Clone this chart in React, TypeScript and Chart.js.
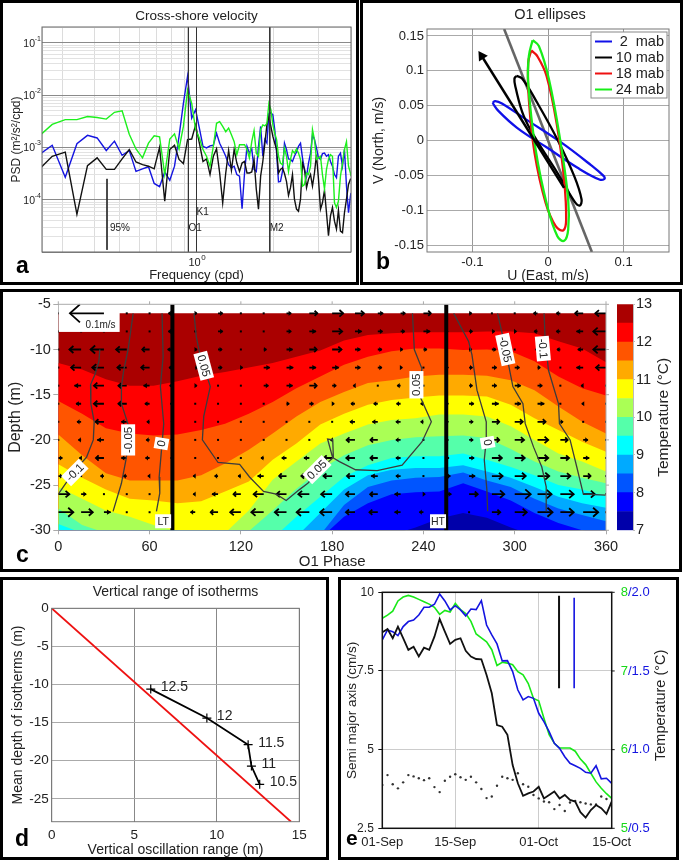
import React, { useEffect, useRef } from "react";
import { Chart, registerables } from "chart.js";

Chart.register(...registerables);
Chart.defaults.font.family = '"Liberation Sans", Arial, sans-serif';
Chart.defaults.color = "#222";

// ---------- Panel a: spectra ----------
const frequencies = [
  0.239,0.274,0.308,0.342,0.376,0.410,0.445,0.479,0.513,0.547,
  0.581,0.616,0.650,0.684,0.718,0.752,0.787,0.821,0.855,0.889,
  0.923,0.958,0.992,1.026,1.060,1.094,1.129,1.163,1.197,1.231,
  1.265,1.300,1.334,1.368,1.402,1.436,1.471,1.505,1.539,1.573,
  1.607,1.642,1.676,1.710,1.744,1.778,1.813,1.847,1.881,1.915,
  1.949,1.984,2.018,2.052,
  2.087,2.124,2.163,2.202,2.242,2.283,2.324,2.366,2.408,2.453,
  2.497,2.543,2.588,2.635,2.684,2.732,2.782,2.831,2.882,2.934,
  2.988,3.042,3.096,3.153,3.210,3.268,3.327,3.387,3.449,3.511,
  3.573,3.639,3.706,3.772,3.841,3.911,3.980,4.000,
];
// minus log10 of PSD
const blueLogPsd = [
  3.17,2.96,3.57,2.93,2.77,2.82,3.06,2.88,3.15,3.06,
  3.46,3.41,3.37,3.69,3.75,3.47,3.63,3.36,2.79,2.16,
  1.64,2.44,2.28,2.63,2.98,3.01,2.97,2.96,2.73,2.92,
  3.04,3.17,3.33,3.39,3.36,3.52,3.55,4.17,3.49,2.98,
  3.11,3.03,3.42,3.46,2.98,2.60,3.17,2.85,2.92,2.35,
  2.34,2.38,2.66,3.11,
  3.66,3.65,3.46,2.92,3.04,3.22,3.23,3.27,3.17,3.09,
  2.98,2.92,3.20,3.42,3.56,3.30,3.11,2.76,2.85,3.01,
  3.20,3.23,3.12,3.11,3.17,3.14,3.27,3.36,3.52,3.58,
  3.17,3.11,3.36,3.04,3.74,4.25,3.93,3.87,
];
const greenLogPsd = [
  2.82,2.56,2.47,2.47,2.41,2.43,2.46,2.33,2.30,2.75,
  3.03,3.20,2.92,2.78,2.80,3.52,2.84,2.74,3.03,2.60,
  1.90,2.16,2.66,2.82,3.04,3.17,3.36,2.98,2.54,2.51,
  2.60,2.70,2.63,2.76,2.89,3.14,2.95,2.95,2.95,3.04,
  3.20,2.89,2.68,3.11,3.17,2.66,2.57,2.59,2.54,2.16,
  2.28,2.57,2.73,2.85,
  3.17,3.30,3.33,3.01,3.17,3.46,3.23,3.06,3.11,3.03,
  3.11,3.23,3.74,3.71,3.49,3.52,3.36,2.66,2.85,3.23,
  3.20,3.17,3.52,3.79,3.42,3.23,3.14,3.17,4.06,4.15,
  4.03,3.55,3.30,3.04,2.89,3.36,3.49,3.55,
];
const blackLogPsd = [
  3.46,3.17,3.09,4.28,3.35,3.20,3.42,3.42,3.22,3.04,
  3.28,3.33,3.36,3.41,3.00,4.03,3.04,2.96,3.23,3.31,
  2.85,2.84,2.57,2.92,3.27,3.22,3.52,3.17,3.03,3.49,
  4.06,3.49,3.06,3.44,3.04,3.30,3.46,3.30,3.27,3.49,
  3.49,3.47,3.23,3.80,4.18,3.55,3.27,2.92,2.57,2.41,
  2.60,2.79,2.92,3.04,
  3.49,3.42,3.39,3.50,3.65,3.92,3.77,3.52,3.99,4.18,
  4.22,3.99,3.30,3.42,3.77,3.61,3.52,3.74,3.49,3.14,
  3.61,4.18,4.06,3.82,4.25,4.69,4.31,4.15,4.41,4.56,
  4.20,4.60,4.63,4.25,3.99,3.71,3.61,3.61,
];
const tidalNames = ["O1", "K1", "M2"];
const tidalFreqs = [0.93, 1.0, 1.93];
const tidalLabelPsd = [3.0e-5, 6.1e-5, 3.0e-5];
const confidenceFreq = 0.448;
const confidenceRange = [2.5e-4, 1.1e-5];
const psdMajor = [1e-1, 1e-2, 1e-3, 1e-4, 1e-5];
const psdMajorExponents = ["-1", "-2", "-3", "-4", ""];
const psdMinor = [2e-1,9e-2,8e-2,7e-2,6e-2,5e-2,4e-2,3e-2,2e-2,9e-3,8e-3,7e-3,6e-3,5e-3,4e-3,3e-3,2e-3,9e-4,8e-4,7e-4,6e-4,5e-4,4e-4,3e-4,2e-4,9e-5,8e-5,7e-5,6e-5,5e-5,4e-5,3e-5,2e-5];
const freqGrid = [0.25, 0.3, 0.4, 0.5, 0.6, 0.7, 0.8, 0.9, 1, 2, 3, 4];

// ---------- Panel b: ellipses ----------
const ellipse2U = [-0.0733,-0.0698,-0.0609,-0.0276,0.0169,0.0569,0.0738,0.0747,0.068,0.0391,-0.0009,-0.0409,-0.0653,-0.0733];
const ellipse2V = [0.054,0.0565,0.0531,0.0292,-0.0024,-0.0354,-0.0512,-0.055,-0.056,-0.0392,-0.0105,0.0182,0.0421,0.054];
const ellipse10U = [-0.0418,-0.0342,-0.0142,0.0124,0.0347,0.0444,0.0418,0.0347,0.0124,-0.0142,-0.032,-0.0431,-0.0444,-0.0418];
const ellipse10V = [0.0928,0.089,0.0541,0.0014,-0.0512,-0.0847,-0.0933,-0.0871,-0.0464,-0.001,0.0349,0.077,0.0885,0.0928];
const ellipse18U = [-0.0222,-0.0142,-0.0018,0.0124,0.0213,0.024,0.0204,0.0102,-0.0031,-0.0178,-0.0253,-0.0262,-0.0222];
const ellipse18V = [0.1292,0.1211,0.0923,0.0182,-0.056,-0.1134,-0.1287,-0.123,-0.0895,-0.0177,0.0589,0.1115,0.1292];
const ellipse24U = [-0.0204,-0.012,0.0013,0.016,0.0267,0.0267,0.0213,0.0124,-0.0009,-0.0164,-0.0262,-0.0253,-0.0204];
const ellipse24V = [0.144,0.1354,0.0876,0.0014,-0.0847,-0.1278,-0.144,-0.1373,-0.0943,-0.0129,0.0828,0.1211,0.144];
const principalU = [-0.058, 0.058];
const principalV = [0.16, -0.16];
const phaseArrowU = [0.0213, -0.0876];
const phaseArrowV = [-0.068, 0.121];
const ellipseLabels = ["2  mab", "10 mab", "18 mab", "24 mab"];
const ellipseTicksV = [0.15, 0.1, 0.05, 0, -0.05, -0.1, -0.15];
const ellipseTicksU = [-0.1, 0, 0.1];

// ---------- Panel c: phase-depth temperature ----------
const isoPhases = [0,15.65,31.3,46.96,62.6,78.3,93.9,109.6,125.2,140.9,156.5,172.2,187.8,203.5,219.1,234.8,250.4,266.1,281.7,297.4,313,328.7,344.3,360];
const t7_5 = [-31,-31,-31,-31,-31,-31,-31,-31,-31,-31,-31,-31,-31,-31,-30.5,-29.7,-28.7,-28.1,-28.6,-29.7,-30.6,-31,-31,-31];
const t8 = [-31,-31,-31,-31,-31,-31,-31,-31,-31,-31,-31,-30.9,-28.5,-27,-26,-25.8,-25.7,-24.8,-25.7,-26.7,-28.1,-29.2,-30,-30.6];
const t8_5 = [-31,-31,-31,-31,-31,-31,-31,-31,-31,-31,-31,-30.5,-27.2,-25.2,-24.5,-24.2,-24.1,-23.6,-24.5,-25.2,-26.5,-27.6,-28.3,-29];
const t9 = [-31,-31,-31,-31,-31,-31,-31,-31,-31,-31,-30.7,-28.1,-25.5,-23.9,-23.3,-23.1,-23.1,-22.8,-23.5,-24.2,-25.2,-26.3,-27,-27.5];
const t9_5 = [-29.3,-30.3,-31,-31,-31,-31,-31,-31,-31,-30.9,-28.5,-26.3,-24.1,-22.8,-22,-21.8,-21.8,-21.5,-22.2,-23,-23.9,-25,-25.5,-26.2];
const t10 = [-27.6,-29.4,-30.3,-31,-31,-31,-31,-31,-30.1,-27.8,-25.4,-23.3,-21.7,-20.6,-20,-19.7,-19.6,-19.5,-19.8,-21,-22.4,-23.5,-24.2,-24.8];
const t10_5 = [-25.2,-26.5,-27.8,-28.5,-29.4,-30.1,-30.5,-30.3,-27.8,-24.4,-22.4,-20.4,-19.3,-18.3,-17.8,-17.6,-17.2,-17.2,-17.4,-18.5,-20,-21.5,-22.4,-23.5];
const t11 = [-22.7,-24.2,-25.5,-26.5,-26.7,-27,-26.8,-25.7,-24.6,-22.2,-20.4,-18.3,-17.1,-16.1,-15.6,-15.3,-15.1,-15.1,-15.2,-16.1,-17.6,-18.9,-20.2,-21.3];
const t11_5 = [-19.4,-21.7,-23.7,-24.5,-24.5,-24.5,-23.9,-22.6,-21.1,-19.3,-17.4,-15.8,-14.7,-13.7,-13.4,-13,-12.8,-12.8,-12.9,-13.4,-14.5,-16.3,-18,-19.3];
const t12 = [-15.7,-17.1,-18.7,-19.3,-19.5,-19.4,-18.9,-18.2,-17.1,-15.8,-14.3,-13,-11.7,-10.8,-10.2,-9.9,-9.9,-10.05,-10,-10.2,-11.3,-13,-14.3,-15.1];
const t12_5 = [-11.5,-12.2,-13.3,-14,-14,-13.5,-12.9,-12.5,-12,-11.5,-10.8,-10.1,-9,-8.4,-8.2,-8.1,-8.1,-8.1,-8,-8,-8.2,-9.1,-9.9,-11.4];
const t13 = [-6,-6,-6,-6,-6,-6,-6,-6,-6,-6,-6,-6,-6,-6,-6,-6,-6,-6,-6,-6,-6,-6,-6,-6];
const bandColors = ["#0000aa","#0000ff","#0055ff","#00aaff","#00ffff","#55ffaa","#aaff55","#ffff00","#ffaa00","#ff5500","#ff0000","#aa0000"];
const bandLow = [7,7.5,8,8.5,9,9.5,10,10.5,11,11.5,12,12.5];
const bandHigh = [7.5,8,8.5,9,9.5,10,10.5,11,11.5,12,12.5,13];

const contourM01aPhase = [27.3,26.7,24,21.2,21.4,23.6,23,18.6,13.8,6.6,3.3,0];
const contourM01aDepth = [-10,-11.3,-12.8,-13.9,-16,-18,-20,-21.9,-22.8,-24.4,-25.2,-26];
const contourM005aPhase = [49.2,45.9,43,41.5,41.5,45.9,45.5,44.8,41.5,36];
const contourM005aDepth = [-6,-10,-12.3,-14.1,-16,-18.3,-20,-21.9,-24.8,-27.9];
const contour0aPhase = [68.2,68.9,67.1,69.3,68.4,66.3,66.7,64.5];
const contour0aDepth = [-6,-10.8,-14.1,-18.2,-20,-24.1,-25.9,-27.9];
const contour005Phase = [89.2,90.7,92.9,99.9,95.6,94.7,105,119.2,125.7,134.9,143.2,149.8,158.5,164,175,180.4,177,180.4,180.8,184.8,195.4,209.6,226,239.1,245.2,237,239,234,232.8];
const contour005Depth = [-6,-8.6,-10.4,-14.1,-17.4,-20,-22.5,-22.7,-24.1,-25.7,-26,-26.7,-25.5,-24.8,-22.8,-22,-19.9,-20,-22,-22.4,-23.3,-23.4,-22.8,-20.2,-18,-14.9,-12.1,-10,-6];
const contour0bPhase = [259.9,269.7,271.9,275.2,281.3,281.3,280,281.7,282.2];
const contour0bDepth = [-6,-9.1,-10.6,-14.5,-18,-20,-22.2,-25.5,-27.9];
const contourM005bPhase = [288.7,292.7,297.5,298.8,305.4,306.9,312.4,317.8,320.7,320.7];
const contourM005bDepth = [-6,-8.9,-13,-14.1,-16,-18.2,-20.8,-23,-25.2,-27.9];
const contourM01bPhase = [319.3,320,322.2,328.8,329.4,336.4,340.8,345.1,360];
const contourM01bDepth = [-6,-8.9,-12.3,-16,-18.2,-20,-23,-26,-26.1];
const contourLabelText = ["-0.1","-0.05","0","0.05","0.05","0.05","0","-0.05","-0.1"];
const contourLabelPhase = [10.9,45.9,67.8,95.6,170,235.4,282.2,293.8,318.5];
const contourLabelDepth = [-23.6,-20,-20.4,-11.8,-23.3,-13.9,-20.3,-10,-9.9];
const contourLabelAngle = [-45,-90,-80,75,-45,-90,80,78,85];
const tideMarkPhases = [75, 255];
const tideMarkNames = ["LT", "HT"];
const tideMarkLabelPhases = [68.9, 249.6];

const quiverPhases = [0,15,30,45,60,75,90,105,120,135,150,165,180,195,210,225,240,255,270,285,300,315,330,345,360];
const quiverDepths = [-6,-8,-10,-12,-14,-16,-18,-20,-22,-24,-26,-28];
// cross-shore velocity, mm/s
const u06 = [0,0,0,0,0,-12,5,14,3,3,14,24,33,27,16,14,22,4,8,3,0,-12,-12,-24,-32];
const u08 = [0,0,0,0,0,-12,3,14,3,3,14,20,30,20,14,12,20,5,10,8,5,-10,-12,-20,-38];
const u10 = [0,-35,-40,-32,-22,-14,5,12,3,8,18,22,28,16,12,6,10,0,8,12,3,-6,-10,-16,-38];
const u12 = [0,-30,-35,-28,-25,-10,8,12,5,18,20,20,20,16,12,5,3,6,10,14,14,8,2,-20,-30];
const u14 = [0,-20,-30,-25,-18,-8,5,2,3,14,18,22,12,-5,2,-10,-3,4,10,14,18,14,2,-6,0];
const u16 = [0,-15,-30,-25,-14,-6,3,2,3,3,8,12,6,-12,-12,-12,-8,6,14,20,18,20,3,-4,0];
const u18 = [3,-12,-25,-16,-8,-4,2,2,2,-3,-3,2,2,-15,-16,-14,-8,6,12,22,24,24,8,3,0];
const u20 = [2,-8,-20,-14,-10,-5,2,2,2,2,-3,-3,-5,-25,-22,-14,3,6,12,22,28,32,22,14,0];
const u22 = [12,-5,-24,-16,-12,-5,2,3,3,-8,-14,-16,-25,-26,-22,-14,2,8,15,30,30,32,26,18,0];
const u24 = [12,3,-10,-10,-5,0,-6,-10,-8,-18,-22,-24,-26,-24,-20,-14,3,12,18,32,33,35,30,22,0];
const u26 = [33,15,3,2,2,3,-6,-18,-22,-30,-30,-33,-33,-27,-23,-18,5,15,26,37,48,42,40,35,0];
const u28 = [45,35,20,3,2,0,-14,-22,-32,-37,-35,-38,-36,-27,-25,-18,-12,0,3,25,36,45,40,45,0];
const uRows = [u06,u08,u10,u12,u14,u16,u18,u20,u22,u24,u26,u28];

// ---------- Panel d ----------
const isothermRange = [6, 9.4, 11.9, 12.1, 12.6];
const isothermDepth = [-10.6, -14.4, -17.9, -20.7, -23.1];
const isothermNames = ["12.5", "12", "11.5", "11", "10.5"];
const redLineX = [0, 14.5];
const redLineY = [0, -28];
const depthTicksD = [0, -5, -10, -15, -20, -25];

// ---------- Panel e ----------
const days = [0,1,2,3,4,5,6,7,8,9,10,11,12,13,14,15,16,17,18,19,20,21,22,23,24,25,26,27,28,29,30,31,32,33,34,35,36,37,38,39,40,41,42,43,44];
const semiMajor = [8.73,8.83,8.54,8.91,8.54,8.17,8.27,7.96,8.24,8.17,8.59,9.15,8.75,8.36,8.49,8.54,8.14,7.96,7.88,7.87,7.37,6.79,5.78,5.73,5.47,4.51,3.93,3.53,3.61,3.67,3.82,3.45,3.56,3.67,3.45,3.56,3.40,3.35,3.01,2.84,3.08,3.24,3.14,2.96,3.35];
const blueRange = [1.697,1.761,1.75,1.725,1.782,1.814,1.824,1.856,1.905,1.905,1.924,1.989,1.945,1.888,1.915,1.888,1.85,1.894,1.89,1.947,1.792,1.729,1.672,1.564,1.566,1.496,1.379,1.316,1.337,1.326,1.231,1.178,1.114,1.04,1.008,0.955,0.913,0.898,0.881,0.856,0.85,0.898,0.814,0.818,0.786];
const greenTemp = [7.67,7.71,7.76,7.89,7.94,7.96,7.94,7.91,7.88,7.85,7.81,7.72,7.77,7.75,7.86,7.78,7.73,7.63,7.47,7.42,7.37,7.27,7.07,7.11,7.10,7.08,6.99,6.95,6.84,6.65,6.62,6.40,6.19,6.08,6.02,6.02,6.02,5.98,5.88,5.81,5.70,5.59,5.51,5.44,5.38];
const dottedSeries = [3.88,4.19,3.90,3.77,3.96,4.19,4.15,4.09,4.03,4.09,3.81,3.65,4.01,4.14,4.22,4.12,4.04,4.14,3.96,3.75,3.46,3.51,3.85,4.14,4.09,4.04,4.25,3.90,3.82,3.56,3.45,3.35,3.33,3.11,3.24,3.05,3.32,3.37,3.33,3.29,3.26,3.26,3.51,3.43,3.29];
const errorBarDays = [33.9, 36.8];
const errorBarBlack = [9.89, 6.95];
const errorBarBlue = [9.83, 6.95];
const dateTicks = [0, 14, 30, 44];
const dateLabels = ["01-Sep", "15-Sep", "01-Oct", "15-Oct"];
const leftTicksE = [2.5, 5, 7.5, 10];
const greenAxis = [8, 7, 6, 5];
const greenAxisText = ["8", "7", "6", "5"];
const blueAxisText = ["2.0", "1.5", "1.0", "0.5"];

// ---------- helpers ----------
const xy = (xs: number[], ys: number[]) => xs.map((x, i) => ({ x, y: ys[i] }));
const setTicks = (vals: number[]) => (s: any) => { s.ticks = vals.map((value) => ({ value })); };
const fixH = (h: number) => (s: any) => { s.height = h; };
const fixW = (w: number) => (s: any) => { s.width = w; };

function label(ctx: any, s: string, x: number, y: number, o: any = {}) {
  ctx.save();
  ctx.font = o.font || "13px 'Liberation Sans'";
  ctx.fillStyle = o.color || "#222";
  ctx.textAlign = o.align || "center";
  ctx.textBaseline = o.base || "alphabetic";
  ctx.translate(x, y);
  if (o.rot) ctx.rotate((o.rot * Math.PI) / 180);
  ctx.fillText(s, 0, 0);
  ctx.restore();
}
function frame(chart: any, color: string, lw = 1) {
  const { ctx, chartArea: a } = chart;
  ctx.save();
  ctx.strokeStyle = color;
  ctx.lineWidth = lw;
  ctx.strokeRect(a.left, a.top, a.right - a.left, a.bottom - a.top);
  ctx.restore();
}
const baseOpts = (top: number, right: number, extra: any = {}) => ({
  responsive: false,
  maintainAspectRatio: false,
  animation: false,
  devicePixelRatio: 1,
  layout: { autoPadding: false, padding: { left: extra.left || 0, top, right, bottom: extra.bottom || 0 } },
  elements: { point: { radius: 0 }, line: { tension: 0 } },
  plugins: { legend: { display: false }, tooltip: { enabled: false }, title: { display: false } },
});

// ---------- configs ----------
function spectraConfig(): any {
  const series = (vals: number[]) => frequencies.map((x, i) => ({ x, y: Math.pow(10, -vals[i]) }));
  const top = 0.2, bot = 1e-5;
  const allTicks = [...psdMajor, ...psdMinor];
  return {
    type: "line",
    data: {
      datasets: [
        ...tidalFreqs.map((f) => ({ data: [{ x: f, y: top }, { x: f, y: bot }], borderColor: "#333", borderWidth: 1 })),
        { data: [{ x: confidenceFreq, y: confidenceRange[0] }, { x: confidenceFreq, y: confidenceRange[1] }], borderColor: "#333", borderWidth: 1 },
        { label: "green", data: series(greenLogPsd), borderColor: "#1cf01c", borderWidth: 1.4 },
        { label: "black", data: series(blackLogPsd), borderColor: "#111", borderWidth: 1.4 },
        { label: "blue", data: series(blueLogPsd), borderColor: "#1414e0", borderWidth: 1.4 },
      ],
    },
    options: {
      ...baseOpts(24, 5),
      scales: {
        x: {
          type: "logarithmic", min: 0.25, max: 4,
          afterBuildTicks: setTicks(freqGrid),
          afterFit: fixH(31),
          grid: { color: (c: any) => (c.tick && c.tick.value === 1 ? "#b0b0b0" : "#dcdcdc"), drawTicks: false },
          border: { display: false },
          ticks: { autoSkip: false, maxRotation: 0, minRotation: 0, display: false },
          title: { display: true, text: "Frequency (cpd)", font: { size: 13 }, padding: 0 },
        },
        y: {
          type: "logarithmic", min: bot, max: top,
          afterBuildTicks: setTicks(allTicks),
          afterFit: fixW(39),
          grid: { color: (c: any) => (c.tick && psdMajor.includes(c.tick.value) ? "#8a8a8a" : "#e2e2e2"), drawTicks: false },
          border: { display: false },
          ticks: { autoSkip: false, display: false },
          title: { display: true, text: "PSD (m²/s²/cpd)", font: { size: 12 }, padding: { top: 6.5, bottom: 0 } },
        },
      },
    },
    plugins: [{
      id: "a-extra",
      afterDraw(chart: any) {
        const { ctx, scales: { x, y }, chartArea: a } = chart;
        frame(chart, "#666");
        label(ctx, "Cross-shore velocity", (a.left + a.right) / 2, 17, { font: "13.5px 'Liberation Sans'" });
        tidalNames.forEach((t, i) => label(ctx, t, x.getPixelForValue(tidalFreqs[i]), y.getPixelForValue(tidalLabelPsd[i]) + 1, { align: "left", font: "10px 'Liberation Sans'", base: "middle" }));
        label(ctx, "95%", x.getPixelForValue(0.46), y.getPixelForValue(3.0e-5) + 1, { align: "left", font: "10px 'Liberation Sans'", base: "middle" });
        // power-of-ten tick labels with raised exponents
        psdMajor.forEach((v, i) => {
          if (!psdMajorExponents[i]) return;
          const py = y.getPixelForValue(v);
          label(ctx, psdMajorExponents[i], a.left - 1, py - 4, { align: "right", base: "middle", font: "7px 'Liberation Sans'" });
          label(ctx, "10", a.left - 7, py + 1, { align: "right", base: "middle", font: "10.5px 'Liberation Sans'" });
        });
        const p1 = x.getPixelForValue(1);
        label(ctx, "10", p1 - 2, a.bottom + 11, { base: "middle", font: "11px 'Liberation Sans'" });
        label(ctx, "0", p1 + 7, a.bottom + 6, { base: "middle", font: "8px 'Liberation Sans'" });
      },
    }],
  };
}

function ellipseConfig(): any {
  const ell = { showLine: true, borderWidth: 2.3, tension: 0.4, borderJoinStyle: "round" };
  return {
    type: "scatter",
    data: {
      datasets: [
        { data: xy(phaseArrowU, phaseArrowV), showLine: true, borderColor: "#000", borderWidth: 2.6, pointRadius: [0, 3.5], pointStyle: "triangle", pointRotation: -33, pointBackgroundColor: "#000", pointBorderColor: "#000" },
        { ...ell, label: ellipseLabels[3], data: xy(ellipse24U, ellipse24V), borderColor: "#18ee18" },
        { ...ell, label: ellipseLabels[2], data: xy(ellipse18U, ellipse18V), borderColor: "#ee1010" },
        { ...ell, label: ellipseLabels[1], data: xy(ellipse10U, ellipse10V), borderColor: "#000" },
        { ...ell, label: ellipseLabels[0], data: xy(ellipse2U, ellipse2V), borderColor: "#1010e8" },
        { data: xy(principalU, principalV), showLine: true, borderColor: "#666", borderWidth: 2.6 },
      ],
    },
    options: {
      ...baseOpts(26, 11),
      scales: {
        x: {
          type: "linear", min: -0.16, max: 0.16, afterBuildTicks: setTicks(ellipseTicksU), afterFit: fixH(33),
          grid: { color: "#999", drawTicks: false }, border: { display: false },
          ticks: { padding: 3, autoSkip: false, maxRotation: 0, font: { size: 13 }, callback: (v: number) => String(v) },
          title: { display: true, text: "U (East, m/s)", font: { size: 14 }, padding: 0 },
        },
        y: {
          type: "linear", min: -0.16, max: 0.16, afterBuildTicks: setTicks(ellipseTicksV), afterFit: fixW(64),
          grid: { color: "#aaa", drawTicks: false }, border: { display: false },
          ticks: { padding: 3, autoSkip: false, font: { size: 13 }, callback: (v: number) => String(v) },
          title: { display: true, text: "V (North, m/s)", font: { size: 14 }, padding: { top: 8, bottom: 0 } },
        },
      },
    },
    plugins: [{
      id: "b-extra",
      afterDraw(chart: any) {
        const { ctx, chartArea: a } = chart;
        frame(chart, "#777");
        label(ctx, "O1 ellipses", 187, 16, { font: "14.5px 'Liberation Sans'" });
        ctx.save();
        ctx.fillStyle = "#fff"; ctx.strokeStyle = "#888"; ctx.lineWidth = 1;
        const bx = a.right - 78, by = a.top + 3, bw = 76, bh = 66;
        ctx.fillRect(bx, by, bw, bh); ctx.strokeRect(bx, by, bw, bh);
        const cols = ["#1010e8", "#000", "#ee1010", "#18ee18"];
        ellipseLabels.forEach((t, i) => {
          const yy = by + 9.5 + i * 16;
          ctx.strokeStyle = cols[i]; ctx.lineWidth = 2;
          ctx.beginPath(); ctx.moveTo(bx + 4, yy); ctx.lineTo(bx + 21, yy); ctx.stroke();
          label(ctx, t, bx + 73, yy, { align: "right", base: "middle", font: "14.5px 'Liberation Sans'" });
        });
        ctx.restore();
      },
    }],
  };
}

function drawArrow(ctx: any, x0: number, y0: number, len: number) {
  const abs = Math.abs(len);
  if (abs <= 1.01) { ctx.fillRect(x0 - 1, y0 - 1, 2, 2); return; }
  const d = Math.sign(len);
  ctx.lineWidth = 1.8;
  ctx.beginPath(); ctx.moveTo(x0, y0); ctx.lineTo(x0 + len, y0); ctx.stroke();
  if (abs < 7) {
    const hh = Math.max(2.4, abs * 0.55);
    ctx.beginPath(); ctx.moveTo(x0 + len + d * 0.6, y0); ctx.lineTo(x0 + len - d * hh, y0 - 2.6); ctx.lineTo(x0 + len - d * hh, y0 + 2.6); ctx.closePath(); ctx.fill();
    return;
  }
  const h = abs * 0.34;
  const w = Math.max(2.6, abs * 0.3);
  ctx.beginPath(); ctx.moveTo(x0 + len - d * h, y0 - w); ctx.lineTo(x0 + len, y0); ctx.lineTo(x0 + len - d * h, y0 + w); ctx.stroke();
}

function phaseConfig(): any {
  const contours = [
    xy(contourM01aPhase, contourM01aDepth), xy(contourM005aPhase, contourM005aDepth), xy(contour0aPhase, contour0aDepth),
    xy(contour005Phase, contour005Depth), xy(contour0bPhase, contour0bDepth), xy(contourM005bPhase, contourM005bDepth), xy(contourM01bPhase, contourM01bDepth),
  ];
  const levels = [t7_5, t8, t8_5, t9, t9_5, t10, t10_5, t11, t11_5, t12, t12_5, t13];
  const marks = tideMarkPhases.map((p) => ({ data: [{ x: p, y: -5 }, { x: p, y: -30 }], borderColor: "#000", borderWidth: 4 }));
  const lines = contours.map((data) => ({ data, borderColor: "#3c3c3c", borderWidth: 1.3 }));
  const fills = levels.map((v, i) => ({ data: xy(isoPhases, v), borderWidth: 0, borderColor: "transparent", fill: "start", backgroundColor: bandColors[i] }));
  const topFill = marks.length + lines.length;
  return {
    type: "line",
    data: { datasets: [...marks, ...lines, ...fills] },
    options: {
      ...baseOpts(11.3, 74),
      scales: {
        x: {
          type: "linear", min: 0, max: 360, afterFit: fixH(40.7),
          ticks: { stepSize: 60, padding: 4, maxRotation: 0, font: { size: 14.5 } },
          grid: { drawOnChartArea: false, color: "#aaa", tickLength: 4 }, border: { color: "#aaa" },
          title: { display: true, text: "O1 Phase", font: { size: 15 }, padding: 0 },
        },
        y: {
          type: "linear", min: -30, max: -5, afterFit: fixW(54.3),
          ticks: { stepSize: 5, padding: 2.4, font: { size: 14.5 } },
          grid: { drawOnChartArea: false, color: "#aaa", tickLength: 5 }, border: { color: "#aaa" },
          title: { display: true, text: "Depth (m)", font: { size: 16 }, padding: { top: 2, bottom: 0 } },
        },
      },
    },
    plugins: [{
      id: "c-quiver",
      afterDatasetDraw(chart: any, args: any) {
        if (args.index !== topFill) return;
        const { ctx, scales: { x, y } } = chart;
        ctx.save();
        ctx.beginPath(); ctx.rect(chart.chartArea.left, chart.chartArea.top, chart.chartArea.right - chart.chartArea.left, chart.chartArea.bottom - chart.chartArea.top); ctx.clip();
        ctx.strokeStyle = "#000"; ctx.fillStyle = "#000"; ctx.lineCap = "butt";
        quiverDepths.forEach((d, r) => {
          uRows[r].forEach((u, c) => {
            drawArrow(ctx, x.getPixelForValue(quiverPhases[c]), y.getPixelForValue(d), u / 3);
          });
        });
        ctx.restore();
      },
      afterDraw(chart: any) {
        const { ctx, scales: { x, y }, chartArea: a } = chart;
        ctx.save();
        ctx.fillStyle = "#fff";
        ctx.fillRect(x.getPixelForValue(0) + 0.5, y.getPixelForValue(-5) + 0.5, x.getPixelForValue(40) - x.getPixelForValue(0), y.getPixelForValue(-8) - y.getPixelForValue(-5));
        ctx.strokeStyle = "#000"; ctx.lineWidth = 1.8;
        const ax = x.getPixelForValue(30), ay = y.getPixelForValue(-6);
        ctx.beginPath(); ctx.moveTo(ax, ay); ctx.lineTo(ax - 34, ay); ctx.stroke();
        ctx.beginPath(); ctx.moveTo(ax - 24, ay - 9); ctx.lineTo(ax - 34, ay); ctx.lineTo(ax - 24, ay + 9); ctx.stroke();
        label(ctx, "0.1m/s", x.getPixelForValue(27.8), y.getPixelForValue(-7.3), { font: "10px 'Liberation Sans'", base: "middle" });
        contourLabelText.forEach((t, i) => {
          const px = x.getPixelForValue(contourLabelPhase[i]), py = y.getPixelForValue(contourLabelDepth[i]);
          ctx.save();
          ctx.translate(px, py); ctx.rotate((contourLabelAngle[i] * Math.PI) / 180);
          ctx.font = "11.5px 'Liberation Sans'";
          const w = ctx.measureText(t).width + 5;
          ctx.fillStyle = "#fff"; ctx.fillRect(-w / 2, -7, w, 14);
          ctx.fillStyle = "#222"; ctx.textAlign = "center"; ctx.textBaseline = "middle"; ctx.fillText(t, 0, 0.5);
          ctx.restore();
        });
        tideMarkNames.forEach((t, i) => {
          const px = x.getPixelForValue(tideMarkLabelPhases[i]), py = y.getPixelForValue(-29);
          ctx.fillStyle = "#fff"; ctx.fillRect(px - 8, py - 7, 16, 14);
          label(ctx, t, px, py + 0.5, { font: "10.5px 'Liberation Sans'", base: "middle" });
        });
        ctx.strokeStyle = "#aaa"; ctx.lineWidth = 1;
        ctx.beginPath(); ctx.moveTo(a.left, a.top); ctx.lineTo(a.right, a.top); ctx.lineTo(a.right, a.bottom); ctx.stroke();
        x.ticks.forEach((t: any) => { const p = x.getPixelForValue(t.value); ctx.beginPath(); ctx.moveTo(p, a.top - 3); ctx.lineTo(p, a.top); ctx.stroke(); });
        y.ticks.forEach((t: any) => { const p = y.getPixelForValue(t.value); ctx.beginPath(); ctx.moveTo(a.right + 3, p); ctx.lineTo(a.right, p); ctx.stroke(); });
        ctx.restore();
      },
    }],
  };
}

function colorbarConfig(): any {
  return {
    type: "bar",
    data: {
      labels: ["T"],
      datasets: bandLow.map((lo, i) => ({ data: [[lo, bandHigh[i]]], backgroundColor: bandColors[i], barPercentage: 1, categoryPercentage: 1, borderWidth: 0 })),
    },
    options: {
      ...baseOpts(11.3, 0, { left: 5, bottom: 38.7 }),
      scales: {
        x: { stacked: true, display: false },
        y: {
          stacked: false, position: "right", min: 7, max: 13, afterFit: fixW(47),
          ticks: { stepSize: 1, padding: 1, font: { size: 14.5 } },
          grid: { drawOnChartArea: false, tickLength: 2, color: "#bbb" }, border: { color: "#bbb" },
        },
      },
    },
    plugins: [{
      id: "cb-title",
      afterDraw(chart: any) {
        const { ctx, chartArea: a } = chart;
        label(ctx, "Temperature (°C)", a.right + 31, (a.top + a.bottom) / 2, { rot: -90, base: "middle", font: "15.5px 'Liberation Sans'" });
      },
    }],
  };
}

function isothermConfig(): any {
  return {
    type: "scatter",
    data: {
      datasets: [
        { data: xy(isothermRange, isothermDepth), showLine: true, borderColor: "#000", borderWidth: 1.8, pointStyle: "cross", pointRadius: 4.5, pointBorderColor: "#000", pointBorderWidth: 1.2 },
        { data: xy(redLineX, redLineY), showLine: true, borderColor: "#ee1111", borderWidth: 1.8 },
      ],
    },
    options: {
      ...baseOpts(28.3, 26.7),
      scales: {
        x: {
          type: "linear", min: 0, max: 15, afterFit: fixH(37.3),
          ticks: { stepSize: 5, padding: 5, maxRotation: 0, font: { size: 13.5 } },
          grid: { color: "#888", drawTicks: false }, border: { display: false },
          title: { display: true, text: "Vertical oscillation range (m)", font: { size: 14 }, padding: 0 },
        },
        y: {
          type: "linear", min: -28, max: 0, afterBuildTicks: setTicks(depthTicksD), afterFit: fixW(48.7),
          ticks: { padding: 3, autoSkip: false, font: { size: 13.5 } },
          grid: { color: "#aaa", drawTicks: false }, border: { display: false },
          title: { display: true, text: "Mean depth of isotherms (m)", font: { size: 14 }, padding: { top: 7, bottom: 0 } },
        },
      },
    },
    plugins: [{
      id: "d-extra",
      afterDraw(chart: any) {
        const { ctx, scales: { x, y }, chartArea: a } = chart;
        frame(chart, "#777");
        label(ctx, "Vertical range of isotherms", (a.left + a.right) / 2, 15.5, { font: "14px 'Liberation Sans'" });
        isothermNames.forEach((t, i) => label(ctx, t, x.getPixelForValue(isothermRange[i]) + 10, y.getPixelForValue(isothermDepth[i]) - 2, { align: "left", base: "middle", font: "14px 'Liberation Sans'" }));
      },
    }],
  };
}

function trendConfig(): any {
  return {
    type: "scatter",
    data: {
      datasets: [
        { data: errorBarBlack.map((y) => ({ x: errorBarDays[0], y })), showLine: true, borderColor: "#111", borderWidth: 2, yAxisID: "y" },
        { data: errorBarBlue.map((y) => ({ x: errorBarDays[1], y })), showLine: true, borderColor: "#1414e0", borderWidth: 1.6, yAxisID: "y" },
        { data: xy(days, semiMajor), showLine: true, borderColor: "#111", borderWidth: 1.8, yAxisID: "y" },
        { data: xy(days, blueRange), showLine: true, borderColor: "#1414e0", borderWidth: 1.6, yAxisID: "yBlue" },
        { data: xy(days, greenTemp), showLine: true, borderColor: "#18e818", borderWidth: 1.6, yAxisID: "yGreen" },
        { data: xy(days, dottedSeries), showLine: false, pointRadius: 1.2, pointBackgroundColor: "#333", pointBorderColor: "#333", pointBorderWidth: 0, yAxisID: "y" },
      ],
    },
    options: {
      ...baseOpts(12.3, 64.3),
      scales: {
        x: {
          type: "linear", min: 0, max: 44, afterBuildTicks: setTicks(dateTicks), afterFit: fixH(28.7),
          ticks: { autoSkip: false, padding: 6, maxRotation: 0, minRotation: 0, font: { size: 13 }, callback: (v: number) => dateLabels[dateTicks.indexOf(v)] },
          grid: { color: "#ccc", drawTicks: false }, border: { display: false },
        },
        y: {
          type: "linear", min: 2.5, max: 10, afterBuildTicks: setTicks(leftTicksE), afterFit: fixW(41.3),
          ticks: { autoSkip: false, padding: 4.5, font: { size: 12 }, callback: (v: number) => String(v) },
          grid: { color: "#ccc", tickColor: "#111", tickLength: 4 }, border: { display: false },
          title: { display: true, text: "Semi major axis (cm/s)", font: { size: 13.5 }, padding: { top: 3, bottom: 0 } },
        },
        yGreen: { type: "linear", min: 5, max: 8, display: false },
        yBlue: { type: "linear", min: 0.5, max: 2, display: false },
      },
    },
    plugins: [{
      id: "e-extra",
      afterDraw(chart: any) {
        const { ctx, scales, chartArea: a } = chart;
        frame(chart, "#111", 1.5);
        ctx.save();
        ctx.font = "13px 'Liberation Sans'";
        greenAxis.forEach((v, i) => {
          const py = scales.yGreen.getPixelForValue(v);
          ctx.strokeStyle = "#111"; ctx.lineWidth = 1;
          ctx.beginPath(); ctx.moveTo(a.right, py); ctx.lineTo(a.right + 3, py); ctx.stroke();
          const gx = a.right + 9;
          ctx.textBaseline = "middle"; ctx.textAlign = "left";
          ctx.fillStyle = "#18d818"; ctx.fillText(greenAxisText[i], gx, py);
          const gw = ctx.measureText(greenAxisText[i]).width;
          ctx.fillStyle = "#1414e0"; ctx.fillText("/" + blueAxisText[i], gx + gw, py);
        });
        ctx.restore();
        label(ctx, "Temperature (°C)", 320, (a.top + a.bottom) / 2 - 5, { rot: -90, base: "middle", font: "14.5px 'Liberation Sans'" });
      },
    }],
  };
}

const panels = [
  { x: 0, y: 0, w: 359, h: 285 },
  { x: 360, y: 0, w: 323, h: 285 },
  { x: 0, y: 289, w: 682, h: 283 },
  { x: 0, y: 577, w: 329, h: 283 },
  { x: 338, y: 577, w: 341, h: 283 },
];
const canvases = [
  { x: 3, y: 3, w: 353, h: 280, cfg: spectraConfig },
  { x: 363, y: 3, w: 317, h: 282, cfg: ellipseConfig },
  { x: 4, y: 293, w: 676, h: 278, cfg: phaseConfig },
  { x: 612, y: 293, w: 68, h: 276, cfg: colorbarConfig },
  { x: 3, y: 580, w: 323, h: 279, cfg: isothermConfig },
  { x: 341, y: 580, w: 335, h: 277, cfg: trendConfig },
];
const letters = [
  { t: "a", x: 16, base: 273, size: 23 },
  { t: "b", x: 376, base: 269, size: 23 },
  { t: "c", x: 16, base: 562, size: 23 },
  { t: "d", x: 15, base: 846, size: 23 },
  { t: "e", x: 346, base: 845, size: 21 },
];

export default function App() {
  const refs = useRef<(HTMLCanvasElement | null)[]>([]);
  useEffect(() => {
    const charts = canvases.map((c, i) => new Chart(refs.current[i] as any, c.cfg()));
    return () => charts.forEach((c) => c.destroy());
  }, []);
  return (
    <div style={{ position: "absolute", left: 0, top: 0, width: 685, height: 864, background: "#fff", overflow: "hidden" }}>
      {panels.map((p, i) => (
        <div key={i} style={{ position: "absolute", left: p.x, top: p.y, width: p.w, height: p.h, border: "3px solid #000", boxSizing: "border-box" }} />
      ))}
      {canvases.map((c, i) => (
        <canvas
          key={i}
          ref={(el) => { refs.current[i] = el; }}
          width={c.w}
          height={c.h}
          style={{ position: "absolute", left: c.x, top: c.y, width: c.w, height: c.h, display: "block" }}
        />
      ))}
      {letters.map((l) => (
        <div key={l.t} style={{ position: "absolute", left: l.x, top: l.base - 0.8465 * l.size, fontFamily: "'Liberation Sans'", fontWeight: "bold", fontSize: l.size, lineHeight: 1, color: "#000" }}>{l.t}</div>
      ))}
    </div>
  );
}
